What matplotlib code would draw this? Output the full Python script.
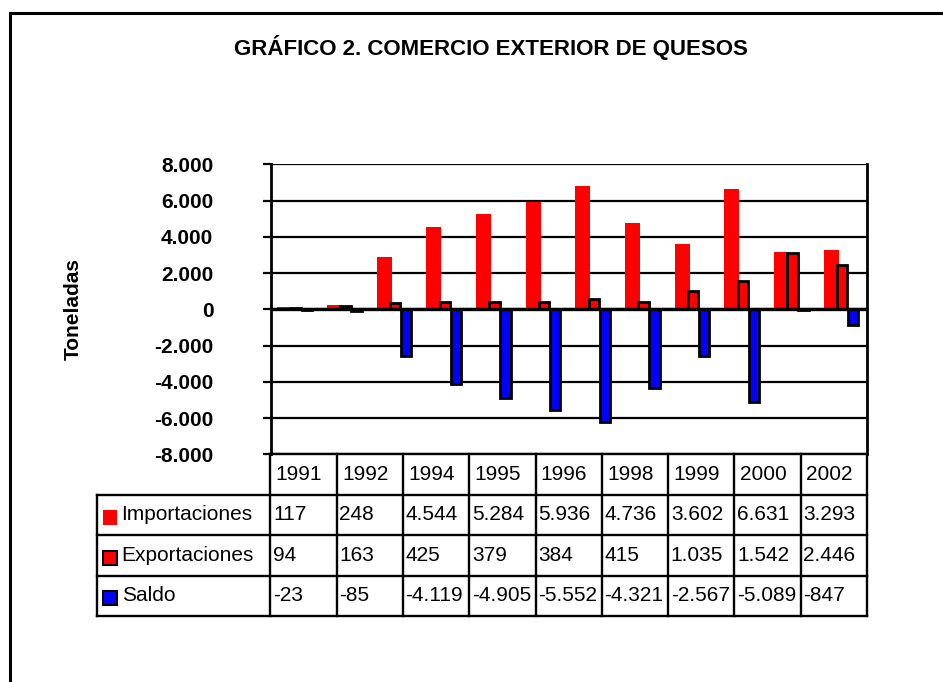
import matplotlib
matplotlib.use("Agg")
import matplotlib.pyplot as plt
from matplotlib.lines import Line2D
from matplotlib.patches import Rectangle
from matplotlib.ticker import FuncFormatter, MultipleLocator

# ---- data ----
years_all = [1991, 1992, 1993, 1994, 1995, 1996, 1997, 1998, 1999, 2000, 2001, 2002]
importaciones = [117, 248, 2900, 4544, 5284, 5936, 6790, 4736, 3602, 6631, 3180, 3293]
exportaciones = [94, 163, 330, 425, 379, 384, 560, 415, 1035, 1542, 3130, 2446]
saldo = [-23, -85, -2570, -4119, -4905, -5552, -6230, -4321, -2567, -5089, -50, -847]
table_years = [1991, 1992, 1994, 1995, 1996, 1998, 1999, 2000, 2002]
series_names = ["Importaciones", "Exportaciones", "Saldo"]
title = "GRÁFICO 2. COMERCIO EXTERIOR DE QUESOS"
ylabel = "Toneladas"

RED = "#FF0000"
BLUE = "#0000FF"

def fmt(v):
    s = f"{abs(int(v)):,}".replace(",", ".")
    return ("-" if v < 0 else "") + s

plt.rcParams["font.family"] = ["Liberation Sans", "DejaVu Sans"]

W, H = 943, 682
fig = plt.figure(figsize=(W / 100, H / 100), dpi=100)

def fx(px):
    return px / W

def fy(py):
    return 1 - py / H

# outer frame (top and left)
fig.add_artist(Line2D([fx(9.5), fx(943)], [fy(13), fy(13)], color="black", lw=2.2))
fig.add_artist(Line2D([fx(9.5), fx(9.5)], [fy(13), fy(682)], color="black", lw=2.2))

fig.text(fx(491), fy(48), title, ha="center", va="center", fontsize=16,
         fontweight="bold")

# ---- main axes ----
ax_l, ax_r, ax_t, ax_b = 271, 867, 164.3, 454.3
ax = fig.add_axes([fx(ax_l), fy(ax_b), fx(ax_r - ax_l), (ax_b - ax_t) / H])
n = len(years_all)
xs = list(range(n))
off = 0.22
ax.bar([x - off for x in xs], importaciones, width=0.30, color=RED,
       edgecolor="none", zorder=2)
ax.bar(xs, exportaciones, width=0.21, color=RED, edgecolor="black",
       linewidth=2.0, zorder=3)
ax.bar([x + off for x in xs], saldo, width=0.21, color=BLUE, edgecolor="black",
       linewidth=2.0, zorder=4)
ax.axhline(0, color="black", lw=2.4, zorder=5)

ax.set_xlim(-0.5, n - 0.5)
ax.set_ylim(-8000, 8000)
ax.yaxis.set_major_locator(MultipleLocator(2000))
ax.yaxis.set_major_formatter(FuncFormatter(lambda v, p: fmt(v)))
ax.set_axisbelow(True)
ax.grid(axis="y", color="black", lw=1.6)
ax.set_xticks([])
for s in ["top", "bottom"]:
    ax.spines[s].set_visible(False)
ax.spines["left"].set_linewidth(2.0)
ax.spines["right"].set_linewidth(2.0)
ax.tick_params(axis="y", direction="out", length=5.5, width=1.6, pad=36,
               labelsize=15)
for lab in ax.get_yticklabels():
    lab.set_fontweight("bold")

fig.text(fx(73), fy(309), ylabel, rotation=90, ha="center", va="center",
         fontsize=15, fontweight="bold")

# ---- data table ----
tb_l, tb_r, tb_t, tb_b = 96.7, 867, 454.3, 616
tax = fig.add_axes([fx(tb_l), fy(tb_b), fx(tb_r - tb_l), (tb_b - tb_t) / H])
ncol = len(table_years)
colw_px = (tb_r - 270.3) / ncol
lab_w = (270.3 - tb_l) / colw_px
tax.set_xlim(-lab_w, ncol)
tax.set_ylim(0, 4)
tax.axis("off")

lw_t = 1.7
kw = dict(color="black", lw=lw_t, clip_on=False, solid_capstyle="projecting")
# horizontal lines
tax.plot([0, ncol], [4, 4], **kw)
for yy in [3, 2, 1, 0]:
    tax.plot([-lab_w, ncol], [yy, yy], **kw)
# vertical lines
tax.plot([-lab_w, -lab_w], [0, 3], **kw)
for i in range(ncol + 1):
    tax.plot([i, i], [0, 4], **kw)

for i, yr in enumerate(table_years):
    tax.text(i + 0.08, 3.5, str(yr), ha="left", va="center", fontsize=15)

series = [importaciones, exportaciones, saldo]
fills = [RED, RED, BLUE]
edges = ["none", "black", "black"]
for r, (name, vals) in enumerate(zip(series_names, series)):
    yc = 2.5 - r
    sq_w = 14.4 / colw_px
    sq_h = 0.36
    tax.add_patch(Rectangle((-lab_w + 0.09, yc - sq_h / 2 - 0.06), sq_w, sq_h,
                            facecolor=fills[r], edgecolor=edges[r], lw=1.5,
                            clip_on=False))
    tax.text(-lab_w + 0.375, yc, name, ha="left", va="center", fontsize=15)
    for i, yr in enumerate(table_years):
        v = vals[years_all.index(yr)]
        tax.text(i + 0.04, yc, fmt(v), ha="left", va="center", fontsize=15)

fig.savefig("out.png", dpi=100)
